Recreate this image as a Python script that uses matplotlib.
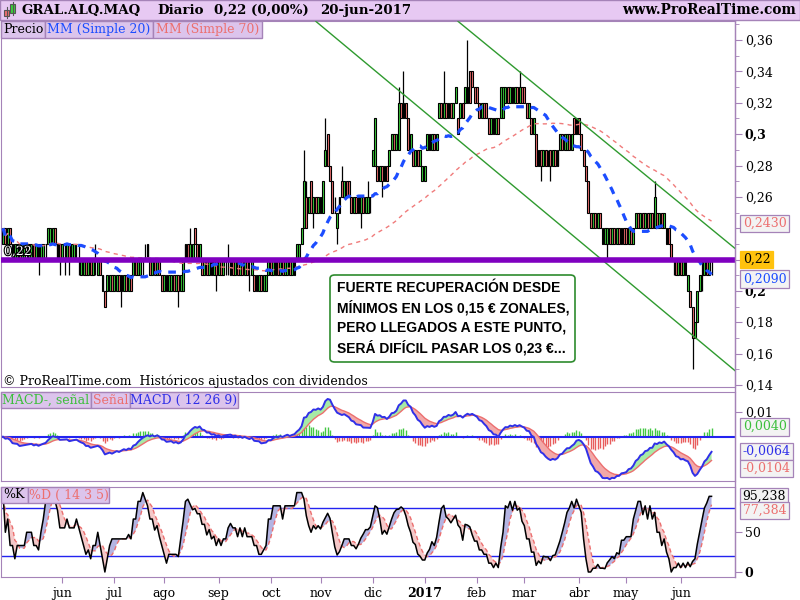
import numpy as np
import pandas as pd
import matplotlib
matplotlib.use('Agg')
import matplotlib.pyplot as plt
import matplotlib.patheffects as pe
from matplotlib.patches import Rectangle, FancyBboxPatch
from matplotlib.lines import Line2D

# daily bars of GRAL.ALQ.MAQ in euro cents (ends 20-jun-2017)
opens = [
    23, 24, 23, 24, 23, 22, 22, 23, 22, 22,
    23, 22, 22, 23, 22, 23, 22, 22, 23, 23,
    23, 23, 24, 22, 23, 22, 23, 22, 23, 22,
    22, 23, 22, 21, 21, 22, 21, 22, 21, 22,
    21, 22, 21, 20, 20, 20, 21, 20, 20, 21,
    20, 20, 21, 20, 21, 21, 22, 21, 21, 22,
    22, 23, 22, 21, 22, 21, 22, 21, 20, 21,
    20, 20, 21, 20, 21, 20, 20, 22, 23, 22,
    22, 24, 23, 22, 22, 21, 22, 21, 22, 21,
    22, 21, 22, 21, 22, 22, 21, 22, 21, 22,
    21, 22, 21, 22, 21, 21, 21, 20, 20, 21,
    20, 20, 21, 22, 21, 21, 22, 21, 22, 21,
    21, 22, 21, 21, 22, 22, 23, 24, 26, 25,
    27, 25, 26, 25, 26, 25, 28, 30, 28, 27,
    25, 24, 25, 27, 26, 27, 27, 26, 25, 26,
    25, 25, 26, 25, 25, 26, 28, 28, 28, 27,
    28, 27, 28, 28, 29, 30, 29, 29, 32, 31,
    32, 31, 29, 29, 28, 29, 28, 27, 27, 29,
    30, 29, 30, 29, 31, 32, 31, 32, 31, 32,
    31, 32, 31, 31, 32, 32, 32, 34, 34, 33,
    33, 32, 31, 32, 32, 31, 30, 31, 30, 31,
    31, 31, 32, 33, 32, 33, 32, 33, 32, 33,
    33, 32, 31, 31, 30, 30, 28, 29, 28, 29,
    28, 29, 28, 29, 28, 29, 30, 29, 29, 30,
    29, 31, 30, 31, 30, 29, 28, 27, 25, 24,
    25, 24, 25, 24, 23, 23, 24, 23, 24, 23,
    24, 23, 24, 24, 23, 24, 23, 24, 25, 24,
    25, 24, 25, 24, 25, 24, 25, 24, 25, 24,
    24, 24, 23, 22, 22, 21, 22, 21, 22, 20,
    20, 19, 17, 18, 20, 21, 21, 22, 21, 22,
]
closes = [
    24, 23, 24, 23, 22, 23, 23, 22, 23, 23,
    23, 23, 23, 22, 23, 22, 23, 23, 23, 24,
    24, 24, 23, 23, 22, 23, 23, 23, 22, 23,
    23, 23, 22, 22, 22, 21, 22, 21, 22, 22,
    22, 21, 20, 19, 21, 21, 20, 21, 21, 20,
    21, 21, 20, 21, 20, 22, 21, 22, 22, 22,
    22, 22, 21, 22, 21, 22, 21, 20, 21, 20,
    21, 21, 20, 21, 20, 21, 22, 23, 22, 23,
    23, 23, 22, 23, 21, 22, 21, 22, 21, 22,
    21, 22, 21, 22, 22, 22, 22, 21, 22, 21,
    22, 21, 22, 21, 21, 22, 20, 21, 21, 20,
    21, 21, 22, 21, 22, 22, 21, 22, 21, 22,
    22, 21, 22, 22, 23, 23, 24, 27, 24, 26,
    25, 26, 25, 26, 25, 27, 29, 28, 27, 25,
    25, 25, 26, 26, 27, 26, 26, 25, 26, 25,
    26, 26, 25, 26, 26, 26, 29, 31, 27, 28,
    27, 28, 27, 29, 30, 29, 30, 32, 31, 32,
    31, 29, 30, 28, 29, 28, 29, 28, 28, 30,
    29, 30, 29, 30, 32, 31, 32, 31, 32, 31,
    32, 33, 30, 32, 31, 33, 33, 32, 33, 32,
    32, 31, 32, 31, 31, 30, 31, 30, 31, 30,
    33, 33, 33, 32, 33, 32, 33, 32, 33, 32,
    32, 31, 32, 30, 31, 28, 29, 28, 29, 28,
    28, 28, 29, 28, 29, 30, 29, 30, 30, 29,
    30, 30, 31, 30, 29, 28, 27, 25, 24, 25,
    24, 25, 24, 23, 24, 24, 23, 24, 23, 24,
    23, 24, 23, 23, 24, 23, 24, 25, 24, 25,
    24, 25, 24, 25, 24, 26, 24, 25, 24, 25,
    23, 23, 22, 22, 21, 22, 21, 22, 21, 21,
    19, 17, 18, 20, 21, 21, 22, 21, 22, 22,
]
highs = [
    24, 24, 24, 24, 23, 23, 23, 23, 23, 23,
    23, 23, 23, 23, 23, 23, 23, 23, 23, 24,
    24, 24, 24, 23, 23, 23, 23, 23, 23, 23,
    23, 23, 23, 22, 22, 22, 22, 22, 22, 23,
    22, 22, 21, 20, 21, 21, 21, 21, 21, 21,
    21, 21, 21, 21, 21, 22, 22, 22, 22, 22,
    23, 23, 22, 22, 22, 22, 22, 21, 21, 21,
    21, 21, 21, 21, 21, 21, 22, 23, 23, 24,
    23, 24, 23, 23, 22, 22, 22, 22, 22, 22,
    22, 22, 22, 22, 22, 23, 22, 22, 22, 22,
    22, 22, 22, 22, 22, 22, 21, 21, 21, 21,
    21, 21, 22, 22, 22, 22, 22, 22, 22, 22,
    22, 22, 22, 22, 23, 23, 24, 29, 27, 26,
    27, 26, 26, 26, 26, 27, 31, 30, 28, 27,
    26, 25, 26, 28, 27, 27, 27, 26, 26, 26,
    26, 26, 26, 26, 27, 26, 29, 31, 28, 28,
    28, 28, 28, 29, 30, 30, 30, 33, 32, 34,
    32, 31, 30, 29, 29, 29, 29, 28, 28, 30,
    30, 30, 30, 30, 32, 32, 34, 32, 32, 32,
    32, 33, 31, 32, 32, 33, 36, 34, 34, 33,
    33, 32, 32, 32, 32, 31, 31, 31, 31, 31,
    33, 33, 33, 33, 33, 33, 33, 33, 34, 33,
    33, 32, 32, 31, 31, 30, 29, 29, 29, 29,
    29, 29, 29, 29, 29, 30, 30, 30, 30, 30,
    30, 31, 31, 31, 30, 29, 28, 27, 25, 25,
    25, 25, 25, 24, 24, 24, 24, 24, 24, 24,
    24, 24, 24, 24, 24, 24, 24, 25, 25, 25,
    25, 25, 25, 25, 25, 27, 25, 25, 25, 25,
    24, 24, 23, 22, 22, 22, 22, 22, 22, 21,
    20, 19, 18, 20, 21, 22, 22, 22, 22, 22,
]
lows = [
    23, 23, 23, 23, 22, 22, 22, 22, 22, 22,
    22, 22, 22, 22, 22, 21, 22, 22, 22, 23,
    23, 23, 23, 22, 21, 22, 21, 22, 21, 22,
    22, 22, 21, 21, 21, 21, 21, 21, 21, 21,
    21, 21, 20, 19, 20, 20, 20, 20, 20, 20,
    19, 20, 20, 20, 20, 21, 21, 21, 21, 21,
    22, 22, 21, 21, 21, 21, 21, 20, 20, 20,
    20, 20, 20, 20, 19, 20, 20, 22, 22, 22,
    22, 23, 22, 22, 21, 21, 21, 21, 21, 21,
    20, 21, 21, 21, 21, 21, 21, 21, 21, 21,
    21, 21, 21, 21, 20, 21, 20, 20, 20, 20,
    20, 20, 21, 21, 21, 21, 21, 21, 21, 21,
    21, 21, 21, 21, 22, 22, 23, 24, 24, 25,
    25, 24, 25, 25, 25, 25, 28, 28, 27, 25,
    25, 23, 25, 26, 26, 26, 26, 25, 25, 25,
    25, 24, 25, 25, 25, 25, 28, 28, 27, 27,
    26, 27, 27, 28, 29, 29, 29, 29, 31, 31,
    31, 29, 29, 28, 28, 28, 28, 27, 27, 29,
    29, 29, 29, 29, 31, 31, 31, 31, 31, 31,
    31, 32, 30, 31, 31, 32, 32, 32, 33, 32,
    32, 31, 31, 31, 31, 30, 30, 30, 30, 30,
    31, 31, 32, 32, 32, 32, 32, 32, 32, 32,
    32, 31, 31, 30, 30, 28, 28, 27, 28, 28,
    28, 27, 28, 28, 28, 29, 29, 29, 29, 29,
    29, 30, 30, 30, 29, 28, 27, 25, 24, 24,
    24, 24, 24, 23, 23, 22, 23, 23, 23, 23,
    23, 23, 23, 23, 23, 23, 23, 24, 24, 24,
    24, 24, 24, 24, 24, 24, 24, 24, 24, 24,
    23, 23, 22, 21, 21, 21, 21, 21, 21, 20,
    19, 15, 17, 18, 20, 20, 21, 21, 21, 21,
]
last_day = '2017-06-20'
ticker = 'GRAL.ALQ.MAQ'

support = 0.22
# hand drawn channel: (bar number, price) at both ends
chan_low_x, chan_low_y = [132, 309], [0.372, 0.149]
chan_high_x, chan_high_y = [192, 309], [0.372, 0.227]

# numbers printed in the tags on the right hand scale
ma70_tag, ma20_tag = 0.2430, 0.2090
macd_hist_tag, macd_tag, signal_tag = 0.0040, -0.0064, -0.0104
k_tag, d_tag = 95.238, 77.384

meses = ['ene', 'feb', 'mar', 'abr', 'may', 'jun', 'jul', 'ago', 'sep', 'oct', 'nov', 'dic']
nota = ['FUERTE RECUPERACIÓN DESDE',
        'MÍNIMOS EN LOS 0,15 € ZONALES,',
        'PERO LLEGADOS A ESTE PUNTO,',
        'SERÁ DIFÍCIL PASAR LOS 0,23 €...']

o = np.array(opens) / 100
c = np.array(closes) / 100
h = np.array(highs) / 100
l = np.array(lows) / 100
n = len(c)
x = np.arange(n)
dates = pd.bdate_range(end=last_day, periods=n)

# indicators
cs = pd.Series(c)
ma20 = cs.rolling(20, min_periods=1).mean()
ma70 = cs.rolling(70, min_periods=1).mean()
macd = cs.ewm(span=12, adjust=False).mean() - cs.ewm(span=26, adjust=False).mean()
signal = macd.ewm(span=9, adjust=False).mean()
hist = macd - signal
hh = pd.Series(h).rolling(14, min_periods=1).max()
ll = pd.Series(l).rolling(14, min_periods=1).min()
raw = (100 * (cs - ll) / (hh - ll).replace(0, np.nan)).fillna(50)
pct_k = raw.rolling(3, min_periods=1).mean()
pct_d = pct_k.rolling(5, min_periods=1).mean()

plt.rcParams['font.family'] = ['DejaVu Serif']
FRAME = '#a583b8'
LAV = '#dcc4ec'
GREEN = '#3ccf3c'
RED = '#ec6f6f'
BLUE = '#1c4dff'

fig = plt.figure(figsize=(8, 6), dpi=100)


def px_box(x0, y0, x1, y1):
    return [x0 / 800, 1 - y1 / 600, (x1 - x0) / 800, (y1 - y0) / 600]


ax_p = fig.add_axes(px_box(1, 21, 735, 387))
ax_m = fig.add_axes(px_box(1, 392, 735, 481))
ax_s = fig.add_axes(px_box(1, 487, 735, 577))

for ax in (ax_p, ax_m, ax_s):
    ax.set_xlim(-0.84, 308.9)
    for sp in ax.spines.values():
        sp.set_color(FRAME)
    ax.yaxis.tick_right()
    ax.tick_params(axis='y', which='major', colors=FRAME, labelcolor='black',
                   labelsize=9, length=5, pad=2)
    ax.tick_params(axis='y', which='minor', colors=FRAME, length=3)
    ax.tick_params(axis='x', bottom=False, labelbottom=False)

# ---- price panel
body_lo = np.minimum(o, c)
body_h = np.abs(c - o)
fill = np.where(c > o, GREEN, np.where(c < o, RED, 'white'))
ax_p.vlines(x, l, h, color='black', lw=0.9, zorder=2)
ax_p.bar(x, body_h, bottom=body_lo, width=0.8, color=fill,
         edgecolor='black', linewidth=0.8, zorder=3)
ax_p.plot(x, ma70, color='#f07b7b', lw=1, dashes=(3, 3), zorder=4)
ax_p.plot(x, ma20, color=BLUE, lw=2.3, dashes=(2.4, 2.2), zorder=5)
ax_p.plot(chan_low_x, chan_low_y, color='#2f9a2f', lw=1, zorder=4)
ax_p.plot(chan_high_x, chan_high_y, color='#2f9a2f', lw=1, zorder=4)
ax_p.axhline(support, color='#7f00c0', lw=4, zorder=6)
ax_p.text(0.004, support + 0.001, '0,22', transform=ax_p.get_yaxis_transform(),
          fontsize=9, color='white', va='bottom', zorder=5,
          path_effects=[pe.withStroke(linewidth=1.6, foreground='black')])
ax_p.set_ylim(0.1387, 0.3722)

# tags cover the 0,22 and 0,24 levels, so those ticks carry no label
price_ticks = np.arange(14, 37, 2) / 100
price_labels = ['' if round(v, 2) in (0.22, 0.24) else f'{v:.2f}'.rstrip('0').replace('.', ',')
                for v in price_ticks]
ax_p.set_yticks(price_ticks)
ax_p.set_yticklabels(price_labels)
for lab in ax_p.get_yticklabels():
    if len(lab.get_text()) == 3:
        lab.set_fontweight('bold')
ax_p.set_yticks(np.arange(14, 38) / 100, minor=True)


def value_tag(ax, y, text, color, face='#f3f3f3', edge=FRAME, dy=0):
    ax.annotate(text, xy=(1, y), xycoords=ax.get_yaxis_transform(),
                xytext=(5.5, dy), textcoords='offset points', va='center', ha='left',
                fontsize=9, color=color, annotation_clip=False, zorder=10,
                bbox=dict(boxstyle='square,pad=0.18', fc=face, ec=edge, lw=0.9))


value_tag(ax_p, ma70_tag, f'{ma70_tag:.4f}'.replace('.', ','), '#ec6f6f')
value_tag(ax_p, support, f'{support:.2f}'.replace('.', ','), 'black', face='#ffc20e', edge='#ffc20e')
value_tag(ax_p, ma20_tag, f'{ma20_tag:.4f}'.replace('.', ','), BLUE, dy=-1.5)

# ---- MACD panel
ax_m.axhline(0, color='#2323f0', lw=1.5, zorder=2)
ax_m.vlines(x, 0, hist, colors=np.where(hist >= 0, '#44c844', '#e85c5c'), lw=1, zorder=1)
ax_m.fill_between(x, macd, signal, where=macd >= signal, interpolate=True,
                  color='#a6eaa6', lw=0, zorder=3)
ax_m.fill_between(x, macd, signal, where=macd < signal, interpolate=True,
                  color='#f2a8a8', lw=0, zorder=3)
ax_m.plot(x, signal, color='#ec6f6f', lw=1, zorder=4)
ax_m.plot(x, macd, color='#3030e8', lw=1.4, zorder=5)
ax_m.set_ylim(-0.0177, 0.0179)
ax_m.set_yticks([0.01])
ax_m.set_yticklabels(['0,01'])
value_tag(ax_m, macd_hist_tag, f'{macd_hist_tag:.4f}'.replace('.', ','), '#3cbf3c')
value_tag(ax_m, macd_tag, f'{macd_tag:.4f}'.replace('.', ','), '#3030e8', dy=1)
value_tag(ax_m, signal_tag, f'{signal_tag:.4f}'.replace('.', ','), '#ec6f6f', dy=-4)

# ---- stochastic panel
ax_s.axhline(80, color='#2323f0', lw=1, zorder=2)
ax_s.axhline(20, color='#2323f0', lw=1, zorder=2)
ax_s.fill_between(x, pct_k, pct_d, where=pct_k >= pct_d, interpolate=True,
                  color='#b4b4e2', lw=0, zorder=3)
ax_s.fill_between(x, pct_k, pct_d, where=pct_k < pct_d, interpolate=True,
                  color='#f5c8c8', lw=0, zorder=3)
ax_s.plot(x, pct_d, color='#ec6f6f', lw=1, dashes=(3, 2), zorder=4)
ax_s.plot(x, pct_k, color='black', lw=1.1, zorder=5)
ax_s.set_ylim(-6.3, 107)
ax_s.set_yticks([0, 50])
ax_s.set_yticklabels(['0', '50'])
ax_s.get_yticklabels()[0].set_fontweight('bold')
value_tag(ax_s, k_tag, f'{k_tag:.3f}'.replace('.', ','), 'black')
value_tag(ax_s, d_tag, f'{d_tag:.3f}'.replace('.', ','), '#ec6f6f')

month_start = [i for i in range(10, n) if dates[i].month != dates[i - 1].month]
month_labels = ['2017' if dates[i].month == 1 else meses[dates[i].month - 1] for i in month_start]
ax_s.set_xticks(month_start)
ax_s.set_xticklabels(month_labels)
ax_s.tick_params(axis='x', bottom=True, labelbottom=True, length=4, colors=FRAME,
                 labelcolor='black', labelsize=9, pad=3)
for lab in ax_s.get_xticklabels():
    if lab.get_text() == '2017':
        lab.set_fontweight('bold')

# ---- frame, header and tags
fig.add_artist(Line2D([735 / 800] * 2, [1 - 21 / 600, 1 - 577 / 600],
                      transform=fig.transFigure, color=FRAME, lw=1))
fig.add_artist(Rectangle((0, 1 - 20 / 600), 1, 20 / 600, transform=fig.transFigure,
                         fc='#e7c9f3', ec=FRAME, lw=1))


def px_rect(x0, y0, x1, y1, **kw):
    fig.add_artist(Rectangle((x0 / 800, 1 - y1 / 600), (x1 - x0) / 800, (y1 - y0) / 600,
                             transform=fig.transFigure, **kw))


# little candle icon
fig.add_artist(Line2D([6.5 / 800] * 2, [1 - 7 / 600, 1 - 18 / 600], transform=fig.transFigure, color='#555', lw=0.8))
fig.add_artist(Line2D([12.5 / 800] * 2, [1 - 2 / 600, 1 - 15 / 600], transform=fig.transFigure, color='#555', lw=0.8))
px_rect(4, 10, 9, 16, fc=RED, ec='#555', lw=0.8)
px_rect(10, 4, 15, 13, fc=GREEN, ec='#555', lw=0.8)

prev_change = (c[-1] / c[-2] - 1) * 100
header_price = f'{c[-1]:.2f} ({prev_change:.2f}%)'.replace('.', ',')
d = dates[-1]
header_date = f'{d.day}-{meses[d.month - 1]}-{d.year}'
for xp, txt in [(21, ticker), (157, 'Diario'), (214, header_price), (320, header_date)]:
    fig.text(xp / 800, 1 - 10.5 / 600, txt, fontsize=9.6, fontweight='bold', va='center')
fig.text(796 / 800, 1 - 10.5 / 600, 'www.ProRealTime.com', fontsize=9.8,
         fontweight='bold', va='center', ha='right')


def legend_tag(x0, y0, x1, y1, text, color):
    px_rect(x0, y0, x1, y1, fc=LAV, ec=FRAME, lw=1, zorder=5)
    fig.text((x0 + x1) / 1600, 1 - (y0 + y1) / 1200, text, ha='center', va='center',
             color=color, fontsize=9, zorder=6)


legend_tag(1, 21, 45, 38, 'Precio', 'black')
legend_tag(45, 21, 153, 38, 'MM (Simple 20)', BLUE)
legend_tag(153, 21, 262, 38, 'MM (Simple 70)', '#ec6f6f')
legend_tag(1, 392, 91, 408, 'MACD-, señal', '#3cbf3c')
legend_tag(91, 392, 130, 408, 'Señal', '#ec6f6f')
legend_tag(130, 392, 238, 408, 'MACD ( 12 26 9)', '#3030e8')
legend_tag(1, 487, 28, 503, '%K', 'black')
legend_tag(28, 487, 109, 503, '%D ( 14 3 5)', '#ec6f6f')

fig.text(3 / 800, 1 - 381 / 600, '© ProRealTime.com  Históricos ajustados con dividendos',
         fontsize=9, va='center')

# comment box
fig.add_artist(FancyBboxPatch((330 / 800, 1 - 362 / 600), 245 / 800, 87 / 600,
                              boxstyle='round,pad=0,rounding_size=0.006',
                              transform=fig.transFigure, fc='white', ec='#2e8b2e',
                              lw=1.2, zorder=5))
fig.text(337 / 800, 1 - 281 / 600, '\n'.join(nota), family=['Liberation Sans', 'DejaVu Sans'],
         fontweight='bold', fontsize=10, va='top', linespacing=1.42, zorder=6)

fig.savefig('out.png', dpi=100)
